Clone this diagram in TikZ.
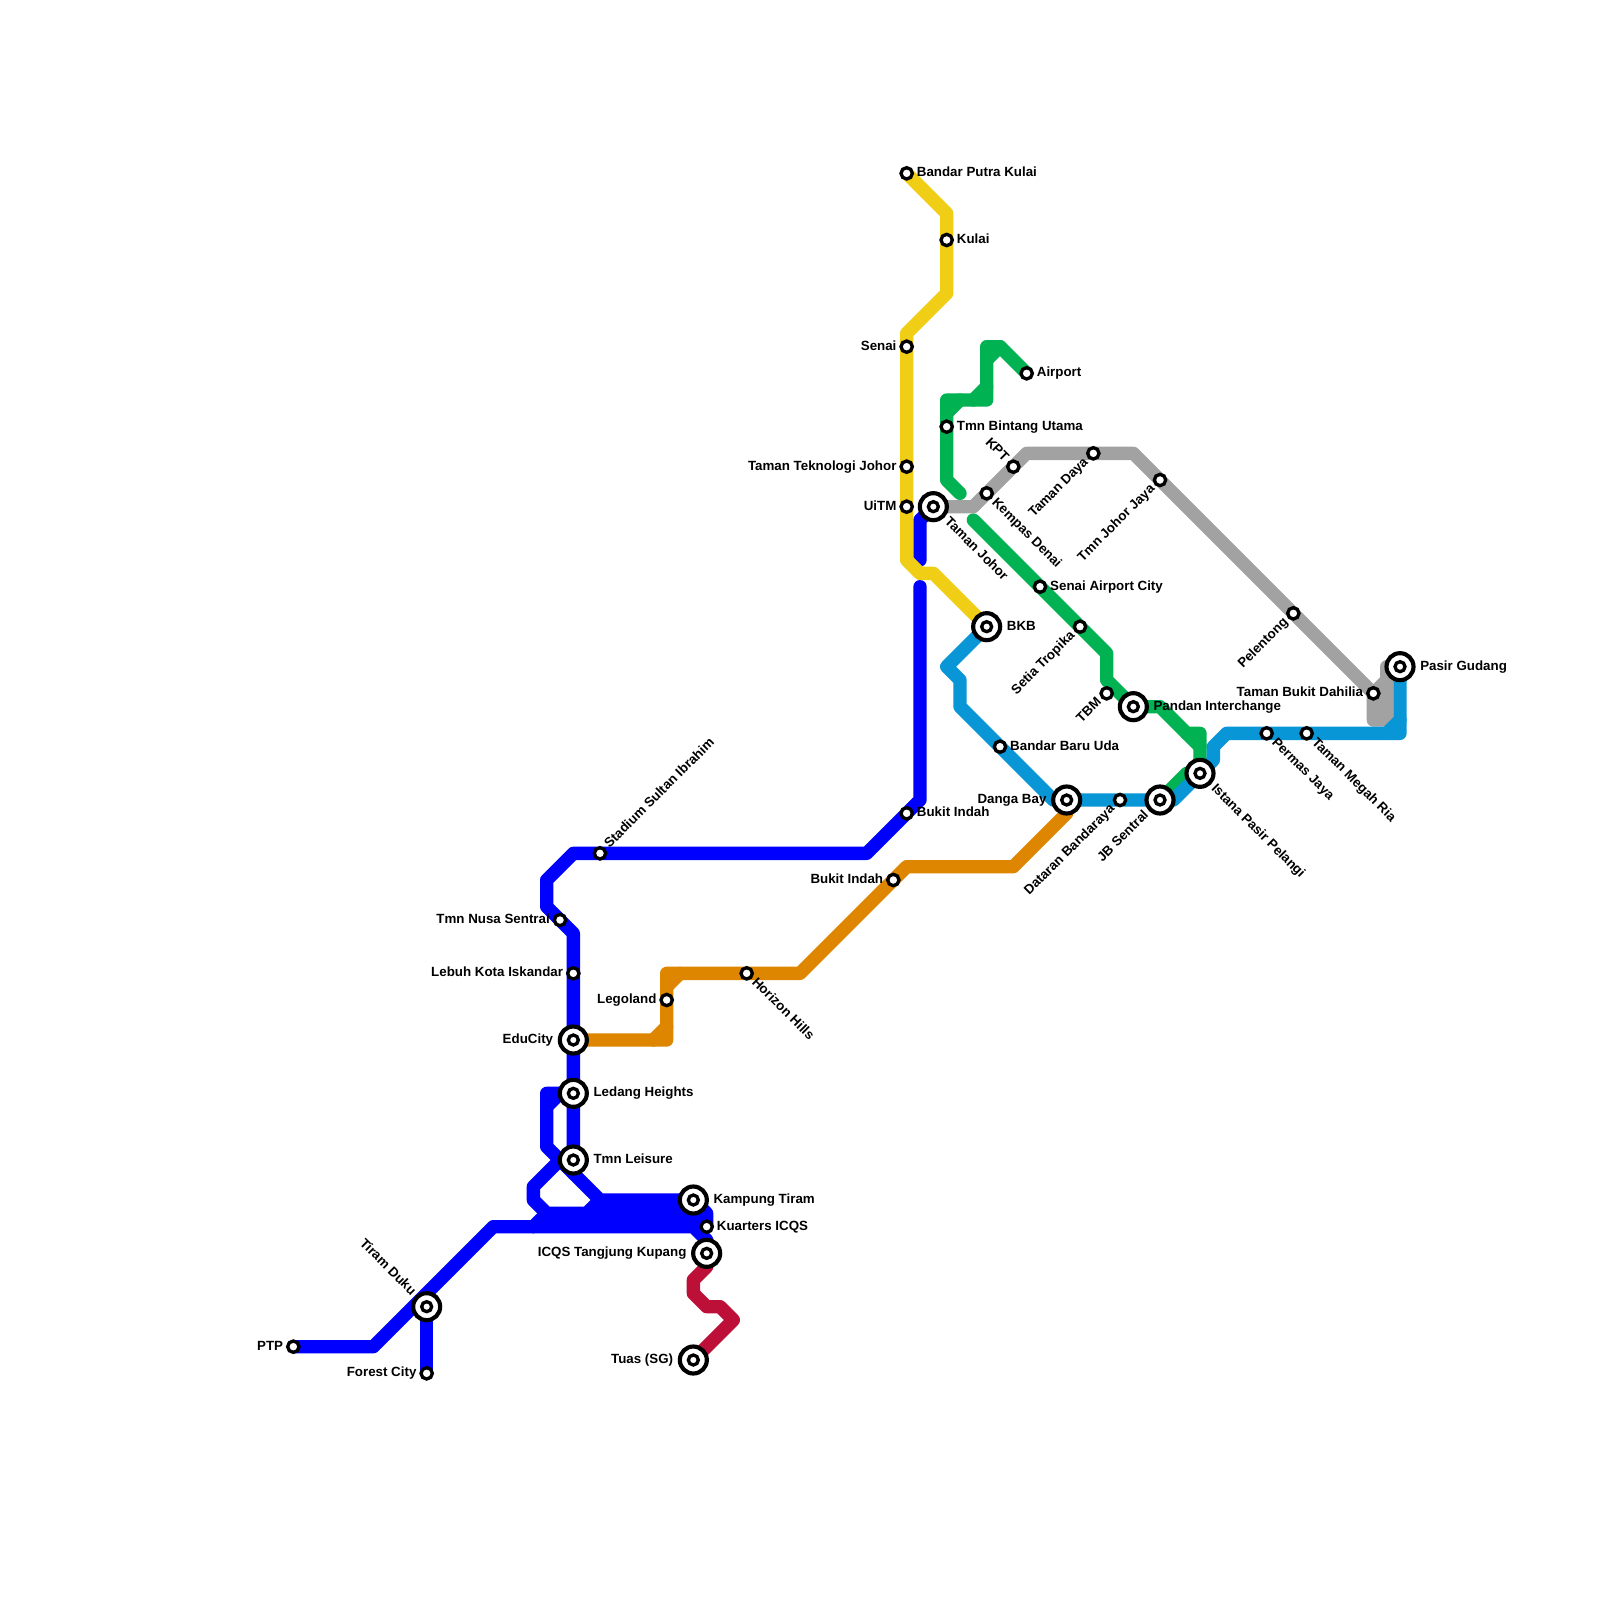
\documentclass[tikz,border=0pt]{standalone}
\usepackage{fontspec}
\setmainfont{Liberation Sans}
\usetikzlibrary{calc}
\pgfdeclarelayer{lines}
\pgfsetlayers{lines,main}
\definecolor{lblue}{HTML}{0000FF}
\definecolor{lsky}{HTML}{0896D7}
\definecolor{lyellow}{HTML}{F0CE15}
\definecolor{lorange}{HTML}{DF8600}
\definecolor{lgreen}{HTML}{00B251}
\definecolor{lgrey}{HTML}{A2A2A2}
\definecolor{lred}{HTML}{BD1038}
\tikzset{
  metro/.style={line width=0.4cm,line cap=round,line join=round},
  st/.style={circle,draw=black,fill=white,inner sep=0pt,outer sep=0pt,minimum size=0.34cm,line width=0.1cm},
  ic/.style={circle,draw=black,fill=white,inner sep=0pt,outer sep=0pt,minimum size=0.81cm,line width=0.125cm,
    path picture={\draw[black,line width=0.1cm] (path picture bounding box.center) circle (0.15cm);}},
  lab/.style={font=\fontsize{11.38pt}{13pt}\selectfont\bfseries,inner sep=0pt,text height=0.6em,text depth=0pt,black}
}
% forward label: text starts at the station, rotated by #2, at distance #3 (grid units)
\newcommand{\LabF}[4]{\node[lab,anchor=west,rotate=#2] (#1-l) at ($(#1.center)+(#2:#3*0.4cm)$) {#4};}
% backward label: text ends at the station
\newcommand{\LabB}[4]{\node[lab,anchor=east,rotate=#2] (#1-l) at ($(#1.center)+(#2+180:#3*0.4cm)$) {#4};}
\begin{document}
\begin{tikzpicture}[x=0.4cm,y=-0.4cm]
\useasboundingbox (0,0) rectangle (120,120);
% stations
\node[st] (bpk) at (68,13) {};
\node[st] (kul) at (71,18) {};
\node[st] (sen) at (68,26) {};
\node[st] (ttj) at (68,35) {};
\node[st] (uit) at (68,38) {};
\node[ic] (tjo) at (70,38) {};
\node[st] (tbu) at (71,32) {};
\node[st] (air) at (77,28) {};
\node[st] (kpt) at (76,35) {};
\node[st] (kem) at (74,37) {};
\node[st] (tda) at (82,34) {};
\node[st] (tjj) at (87,36) {};
\node[st] (sac) at (78,44) {};
\node[st] (set) at (81,47) {};
\node[ic] (bkb) at (74,47) {};
\node[st] (tbm) at (83,52) {};
\node[ic] (pan) at (85,53) {};
\node[st] (pel) at (97,46) {};
\node[st] (tbd) at (103,52) {};
\node[ic] (pgu) at (105,50) {};
\node[st] (per) at (95,55) {};
\node[st] (tmr) at (98,55) {};
\node[ic] (ist) at (90,58) {};
\node[ic] (jbs) at (87,60) {};
\node[st] (dat) at (84,60) {};
\node[ic] (dan) at (80,60) {};
\node[st] (bbu) at (75,56) {};
\node[st] (bia) at (68,61) {};
\node[st] (bib) at (67,66) {};
\node[st] (ssi) at (45,64) {};
\node[st] (tns) at (42,69) {};
\node[st] (lki) at (43,73) {};
\node[ic] (edu) at (43,78) {};
\node[st] (leg) at (50,75) {};
\node[st] (hor) at (56,73) {};
\node[ic] (led) at (43,82) {};
\node[ic] (tml) at (43,87) {};
\node[ic] (kam) at (52,90) {};
\node[st] (kua) at (53,92) {};
\node[ic] (icq) at (53,94) {};
\node[ic] (tua) at (52,102) {};
\node[ic] (tir) at (32,98) {};
\node[st] (ptp) at (22,101) {};
\node[st] (for) at (32,103) {};
% lines
\begin{pgfonlayer}{lines}
\fill[white] (0,0) rectangle (120,120);
\begin{scope}[metro]
% dark blue
\draw[lblue] (ptp.center) -- (28,101) -- (37,92) -- (52,92) -- (53,93) -- (icq.center);
\draw[lblue] (tir.center) -- (for.center);
\draw[lblue] (tjo.center) -- (69,39) -- (69,42);
\draw[lblue] (69,44) -- (69,60) -- (bia.center) -- (65,64) -- (43,64) -- (41,66) -- (41,68) -- (43,70) -- (lki.center) -- (edu.center) -- (led.center) -- (tml.center) -- (43,88) -- (45,90) -- (kam.center) -- (53,91) -- (kua.center);
\draw[lblue] (led.center) -- (41,82) -- (41,86) -- (43,88);
\draw[lblue] (42,87) -- (40,89) -- (40,90) -- (41,91) -- (44,91) -- (45,90);
\draw[lblue] (41,83) -- (42,82);
\draw[lblue] (40,92) -- (41,91);
\draw[lblue] (44,91) -- (52,91) -- (53,92);
\fill[lblue] (45,90) rectangle (53,92);
% red
\draw[lred] (icq.center) -- (53,95) -- (52,96) -- (52,97) -- (53,98) -- (54,98) -- (55,99) -- (tua.center);
% yellow
\draw[lyellow] (bpk.center) -- (71,16) -- (kul.center) -- (71,22) -- (68,25) -- (sen.center) -- (ttj.center) -- (uit.center) -- (68,42) -- (69,43) -- (70,43) -- (bkb.center);
% orange
\draw[lorange] (edu.center) -- (50,78) -- (leg.center) -- (50,73) -- (hor.center) -- (60,73) -- (68,65) -- (76,65) -- (80,61) -- (dan.center);
\draw[lorange] (49,78) -- (50,77);
\draw[lorange] (50,74) -- (51,73);
% green
\draw[lgreen] (air.center) -- (75,26) -- (74,26) -- (74,30) -- (71,30) -- (tbu.center) -- (71,36) -- (72,37);
\draw[lgreen] (74,27) -- (75,26);
\draw[lgreen] (73,30) -- (74,29);
\draw[lgreen] (71,31) -- (72,30);
\draw[lgreen] (73,39) -- (sac.center) -- (set.center) -- (83,49) -- (83,51) -- (pan.center) -- (87,53) -- (89,55) -- (90,55) -- (ist.center);
\draw[lgreen] (89,55) -- (90,56);
\draw[lgreen] (89,58) -- (jbs.center);
% grey
\draw[lgrey] (tjo.center) -- (73,38) -- (kem.center) -- (kpt.center) -- (77,34) -- (tda.center) -- (85,34) -- (tjj.center) -- (pel.center) -- (tbd.center) -- (103,54) -- (104,54) -- (104,50) -- (pgu.center);
\draw[lgrey] (tbd.center) -- (104,51);
\fill[lgrey] (103,52) rectangle (104,54);
% sky blue
\draw[lsky] (bkb.center) -- (71,50) -- (72,51) -- (72,53) -- (bbu.center) -- (79,60) -- (dan.center) -- (dat.center) -- (jbs.center) -- (88,60) -- (ist.center) -- (91,57) -- (91,56) -- (92,55) -- (per.center) -- (tmr.center) -- (105,55) -- (pgu.center);
\draw[lsky] (104,55) -- (105,54);
\end{scope}
\end{pgfonlayer}
% labels
\LabF{bpk}{0}{0.75}{Bandar Putra Kulai}
\LabF{kul}{0}{0.75}{Kulai}
\LabB{sen}{0}{0.75}{Senai}
\LabB{ttj}{0}{0.75}{Taman Teknologi Johor}
\LabB{uit}{0}{0.75}{UiTM}
\LabF{tjo}{-45}{1.4}{Taman Johor}
\LabF{tbu}{0}{0.75}{Tmn Bintang Utama}
\LabF{air}{0}{0.75}{Airport}
\LabB{kpt}{-45}{0.75}{KPT}
\LabF{kem}{-45}{0.75}{Kempas Denai}
\LabB{tda}{45}{0.75}{Taman Daya}
\LabB{tjj}{45}{0.75}{Tmn Johor Jaya}
\LabF{sac}{0}{0.75}{Senai Airport City}
\LabB{set}{45}{0.75}{Setia Tropika}
\LabF{bkb}{0}{1.5}{BKB}
\LabB{tbm}{45}{0.75}{TBM}
\LabF{pan}{0}{1.5}{Pandan Interchange}
\LabB{pel}{45}{0.75}{Pelentong}
\LabB{tbd}{0}{0.75}{Taman Bukit Dahilia}
\LabF{pgu}{0}{1.5}{Pasir Gudang}
\LabF{per}{-45}{0.75}{Permas Jaya}
\LabF{tmr}{-45}{0.75}{Taman Megah Ria}
\LabF{ist}{-45}{1.4}{Istana Pasir Pelangi}
\LabB{jbs}{45}{1.4}{JB Sentral}
\LabB{dat}{45}{0.75}{Dataran Bandaraya}
\LabB{dan}{0}{1.5}{Danga Bay}
\LabF{bbu}{0}{0.75}{Bandar Baru Uda}
\LabF{bia}{0}{0.75}{Bukit Indah}
\LabB{bib}{0}{0.75}{Bukit Indah}
\LabF{ssi}{45}{0.75}{Stadium Sultan Ibrahim}
\LabB{tns}{0}{0.75}{Tmn Nusa Sentral}
\LabB{lki}{0}{0.75}{Lebuh Kota Iskandar}
\LabB{edu}{0}{1.5}{EduCity}
\LabB{leg}{0}{0.75}{Legoland}
\LabF{hor}{-45}{0.75}{Horizon Hills}
\LabF{led}{0}{1.5}{Ledang Heights}
\LabF{tml}{0}{1.5}{Tmn Leisure}
\LabF{kam}{0}{1.5}{Kampung Tiram}
\LabF{kua}{0}{0.75}{Kuarters ICQS}
\LabB{icq}{0}{1.5}{ICQS Tangjung Kupang}
\LabB{tua}{0}{1.5}{Tuas (SG)}
\LabB{tir}{-45}{1.4}{Tiram Duku}
\LabB{ptp}{0}{0.75}{PTP}
\LabB{for}{0}{0.75}{Forest City}
\end{tikzpicture}
\end{document}
